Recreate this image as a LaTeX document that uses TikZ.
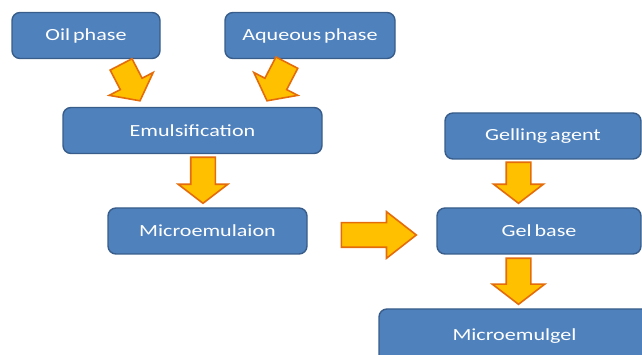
\documentclass[tikz,border=0pt]{standalone}
\usepackage{fontspec}
\setmainfont{Carlito}[FakeStretch=1.3,WordSpace=0.6]
\usetikzlibrary{shapes.arrows}
\definecolor{boxblue}{HTML}{4F81BD}
\definecolor{boxline}{HTML}{385D8A}
\definecolor{arrowfill}{HTML}{FFC000}
\definecolor{arrowline}{HTML}{E46C0A}

\begin{document}
\begin{tikzpicture}[x=1pt,y=1pt,
		stage/.style={draw=boxline,line width=1.4pt,fill=boxblue,rounded corners=8pt,
			text=white,font=\fontsize{17}{20}\selectfont,inner sep=0pt,minimum height=46pt},
		fatarrow/.style={single arrow,draw=arrowline,line width=1.6pt,fill=arrowfill,
			inner xsep=0pt,inner ysep=11.5pt,outer sep=0pt,single arrow head extend=12.5pt,
			single arrow tip angle=105,anchor=tip}]
		\useasboundingbox (0,0) rectangle (642,355);
		\node[stage,minimum width=148pt] (oil) at (86,319.5) {Oil phase};
		\node[stage,minimum width=170pt] (aqueous) at (310,319.5) {Aqueous phase};
		\node[stage,minimum width=259pt] (emul) at (192.5,224.5) {Emulsification};
		\node[stage,minimum width=199pt] (micro) at (207.5,124) {Microemulaion};
		\node[stage,minimum width=196pt] (gelling) at (543,219) {Gelling agent};
		\node[stage,minimum width=204pt] (gelbase) at (539,124) {Gel base};
		\node[stage,minimum width=271pt,minimum height=54pt] (mgel) at (514.5,19) {Microemulgel};
		\node[fatarrow,minimum height=41pt,rotate=-62.5] (oilarrow) at ([xshift=-52.5pt,yshift=6pt]emul.north) {};
		\node[fatarrow,minimum height=43pt,rotate=-117.5] (aqarrow) at ([xshift=74.5pt,yshift=6pt]emul.north) {};
		\node[fatarrow,minimum height=46pt,rotate=-90] (emularrow) at ([xshift=-4.5pt,yshift=4pt]micro.north) {};
		\node[fatarrow,minimum height=75pt,single arrow tip angle=76,single arrow head extend=11pt] (microarrow) at ([xshift=-20pt,yshift=-4pt]gelbase.west) {};
		\node[fatarrow,minimum height=41pt,rotate=-90] (gellarrow) at ([xshift=-20.5pt,yshift=4pt]gelbase.north) {};
		\node[fatarrow,minimum height=46pt,rotate=-90,single arrow head extend=14pt] (basearrow) at ([xshift=4pt,yshift=4pt]mgel.north) {};
	\end{tikzpicture}
\end{document}
